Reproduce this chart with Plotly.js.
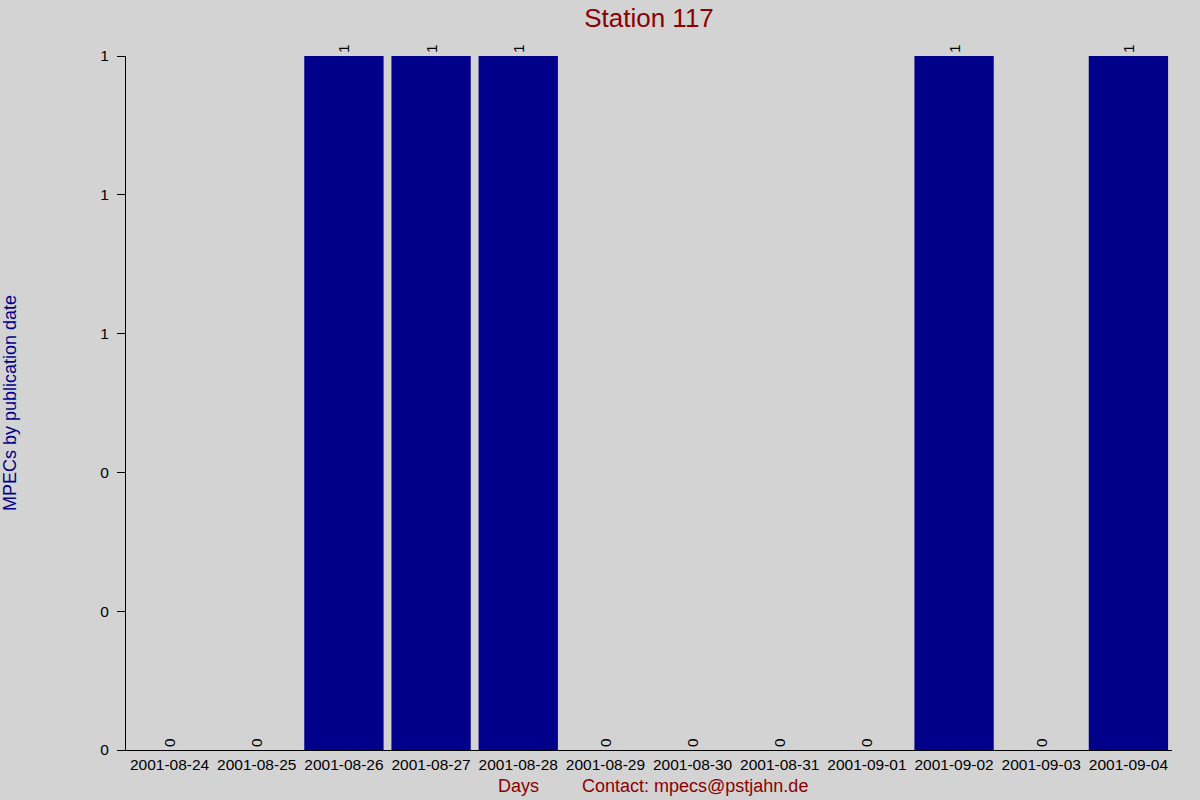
<!DOCTYPE html>
<html>
<head>
<meta charset="utf-8">
<script src="https://cdn.plot.ly/plotly-3.0.1.min.js"></script>
<style>
  html, body { margin: 0; padding: 0; background: #d3d3d3; }
  #chart { width: 1200px; height: 800px; }
</style>
</head>
<body>
<div id="chart"></div>
<script>
// Station 117 — MPECs per publication day
const days = ['2001-08-24', '2001-08-25', '2001-08-26', '2001-08-27', '2001-08-28', '2001-08-29',
              '2001-08-30', '2001-08-31', '2001-09-01', '2001-09-02', '2001-09-03', '2001-09-04'];
const mpecs = [0, 0, 1, 1, 1, 0, 0, 0, 0, 1, 0, 1];
const yTicks = [0, 0.2, 0.4, 0.6, 0.8, 1];

const COLORS = {
  bg: '#d3d3d3',
  bar: '#00008b',
  title: '#8b0000',
  axisTitle: '#00008b',
  text: '#000000',
};

const FONT = 'Liberation Sans, Arial, sans-serif';

const trace = {
  type: 'bar',
  x: days,
  y: mpecs,
  text: mpecs.map(String),
  textposition: 'outside',
  textangle: -90,
  constraintext: 'none',
  cliponaxis: false,
  textfont: { family: FONT, size: 15.5, color: COLORS.text },
  marker: { color: COLORS.bar, line: { width: 0 } },
  hoverinfo: 'x+y',
};

const layout = {
  width: 1200,
  height: 800,
  paper_bgcolor: COLORS.bg,
  plot_bgcolor: COLORS.bg,
  font: { family: FONT, size: 15.5, color: COLORS.text },
  margin: { l: 126, r: 28, t: 56, b: 50 },
  bargap: 0.09,
  showlegend: false,
  title: {
    text: 'Station 117',
    font: { family: FONT, size: 26, color: COLORS.title },
    x: 0.5, xref: 'paper', xanchor: 'center',
    y: 1 - 18 / 800, yanchor: 'middle',
  },
  xaxis: {
    type: 'category',
    showgrid: false,
    zeroline: false,
    showline: true,
    linecolor: '#000000',
    linewidth: 1,
    ticks: '',
    tickfont: { family: FONT, size: 15.5, color: COLORS.text },
    fixedrange: true,
  },
  yaxis: {
    range: [0, 1],
    showgrid: false,
    zeroline: false,
    showline: true,
    linecolor: '#000000',
    linewidth: 1,
    ticks: 'outside',
    ticklen: 8,
    tickcolor: '#000000',
    tickvals: yTicks,
    tickformat: '.0f',
    ticklabelstandoff: 5,
    tickfont: { family: FONT, size: 15.5, color: COLORS.text },
    fixedrange: true,
  },
  annotations: [
    {
      text: 'MPECs by publication date',
      xref: 'paper', yref: 'paper',
      x: (10 - 126) / 1046, y: 0.5,
      xanchor: 'center', yanchor: 'middle',
      textangle: -90,
      showarrow: false,
      font: { family: FONT, size: 18, color: COLORS.axisTitle },
    },
    {
      text: 'Days',
      xref: 'paper', yref: 'paper',
      x: (518 - 126) / 1046, y: (750 - 786) / 694,
      xanchor: 'center', yanchor: 'middle',
      showarrow: false,
      font: { family: FONT, size: 18, color: COLORS.title },
    },
    {
      text: 'Contact: mpecs@pstjahn.de',
      xref: 'paper', yref: 'paper',
      x: (695 - 126) / 1046, y: (750 - 786) / 694,
      xanchor: 'center', yanchor: 'middle',
      showarrow: false,
      font: { family: FONT, size: 18, color: COLORS.title },
    },
  ],
};

Plotly.newPlot('chart', [trace], layout, { displayModeBar: false, staticPlot: true });
</script>
</body>
</html>
